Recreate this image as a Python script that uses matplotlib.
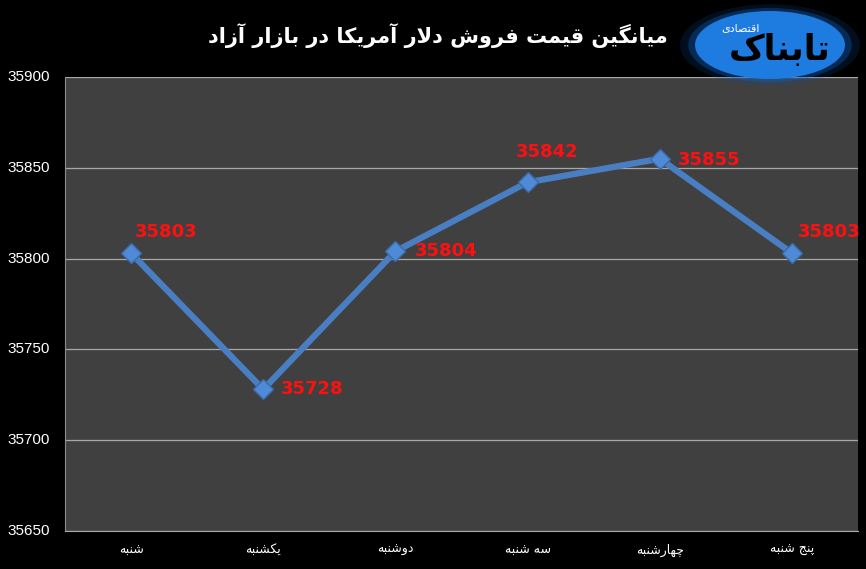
import matplotlib
matplotlib.use("Agg")
import matplotlib.pyplot as plt
from matplotlib.patches import Ellipse
import numpy as np

# ---------------- data ----------------
title_fa = "میانگین قیمت فروش دلار آمریکا در بازار آزاد"
categories = ["شنبه", "یکشنبه", "دوشنبه", "سه شنبه", "چهارشنبه", "پنج شنبه"]
values = [35803, 35728, 35804, 35842, 35855, 35803]
yticks = [35650, 35700, 35750, 35800, 35850, 35900]
logo_main = "تابناک"
logo_sub = "اقتصادی"

# ---------------- simple Persian shaping ----------------
FORMS = {
    '\u0627': (0xFE8D, 0xFE8E, None, None),
    '\u0622': (0xFE81, 0xFE82, None, None),
    '\u0628': (0xFE8F, 0xFE90, 0xFE91, 0xFE92),
    '\u067E': (0xFB56, 0xFB57, 0xFB58, 0xFB59),
    '\u062A': (0xFE95, 0xFE96, 0xFE97, 0xFE98),
    '\u062B': (0xFE99, 0xFE9A, 0xFE9B, 0xFE9C),
    '\u062C': (0xFE9D, 0xFE9E, 0xFE9F, 0xFEA0),
    '\u0686': (0xFB7A, 0xFB7B, 0xFB7C, 0xFB7D),
    '\u062D': (0xFEA1, 0xFEA2, 0xFEA3, 0xFEA4),
    '\u062E': (0xFEA5, 0xFEA6, 0xFEA7, 0xFEA8),
    '\u062F': (0xFEA9, 0xFEAA, None, None),
    '\u0630': (0xFEAB, 0xFEAC, None, None),
    '\u0631': (0xFEAD, 0xFEAE, None, None),
    '\u0632': (0xFEAF, 0xFEB0, None, None),
    '\u0698': (0xFB8A, 0xFB8B, None, None),
    '\u0633': (0xFEB1, 0xFEB2, 0xFEB3, 0xFEB4),
    '\u0634': (0xFEB5, 0xFEB6, 0xFEB7, 0xFEB8),
    '\u0635': (0xFEB9, 0xFEBA, 0xFEBB, 0xFEBC),
    '\u0636': (0xFEBD, 0xFEBE, 0xFEBF, 0xFEC0),
    '\u0637': (0xFEC1, 0xFEC2, 0xFEC3, 0xFEC4),
    '\u0638': (0xFEC5, 0xFEC6, 0xFEC7, 0xFEC8),
    '\u0639': (0xFEC9, 0xFECA, 0xFECB, 0xFECC),
    '\u063A': (0xFECD, 0xFECE, 0xFECF, 0xFED0),
    '\u0641': (0xFED1, 0xFED2, 0xFED3, 0xFED4),
    '\u0642': (0xFED5, 0xFED6, 0xFED7, 0xFED8),
    '\u06A9': (0xFB8E, 0xFB8F, 0xFB90, 0xFB91),
    '\u06AF': (0xFB92, 0xFB93, 0xFB94, 0xFB95),
    '\u0644': (0xFEDD, 0xFEDE, 0xFEDF, 0xFEE0),
    '\u0645': (0xFEE1, 0xFEE2, 0xFEE3, 0xFEE4),
    '\u0646': (0xFEE5, 0xFEE6, 0xFEE7, 0xFEE8),
    '\u0648': (0xFEED, 0xFEEE, None, None),
    '\u0647': (0xFEE9, 0xFEEA, 0xFEEB, 0xFEEC),
    '\u06CC': (0xFBFC, 0xFBFD, 0xFBFE, 0xFBFF),
    '\u064A': (0xFEF1, 0xFEF2, 0xFEF3, 0xFEF4),
}
LAM_ALEF = {'\u0627': (0xFEFB, 0xFEFC), '\u0622': (0xFEF5, 0xFEF6)}


def joins_forward(ch):
    return ch in FORMS and FORMS[ch][2] is not None


def shape(text):
    chars = []
    i = 0
    while i < len(text):
        c = text[i]
        if c == '\u0644' and i + 1 < len(text) and text[i + 1] in LAM_ALEF:
            chars.append(('LA', text[i + 1]))
            i += 2
        else:
            chars.append((c, None))
            i += 1
    out = []
    for k, (c, extra) in enumerate(chars):
        prev = chars[k - 1][0] if k > 0 else None
        prev_joins = prev is not None and prev != 'LA' and joins_forward(prev)
        if c == 'LA':
            iso, fin = LAM_ALEF[extra]
            out.append(chr(fin if prev_joins else iso))
            continue
        if c not in FORMS:
            out.append(c)
            continue
        nxt = chars[k + 1][0] if k + 1 < len(chars) else None
        next_ok = nxt is not None and (nxt in FORMS or nxt == 'LA')
        iso, fin, ini, med = FORMS[c]
        can_fwd = ini is not None and next_ok
        if prev_joins and can_fwd:
            out.append(chr(med))
        elif prev_joins:
            out.append(chr(fin))
        elif can_fwd:
            out.append(chr(ini))
        else:
            out.append(chr(iso))
    return ''.join(reversed(out))


# ---------------- figure ----------------
W, H = 866, 569
fig = plt.figure(figsize=(W / 100, H / 100), dpi=100, facecolor='black')
ax = fig.add_axes([65 / W, (H - 531) / H, (858 - 65) / W, (531 - 77) / H])
ax.set_facecolor('#404040')

x = np.arange(len(categories))
ax.plot(x, values, color='#4A7EC2', lw=4.5, zorder=3, solid_capstyle='round')
ax.plot(x, values, ls='none', marker='D', ms=10, mfc='#4F8AD6', mec='#3A6AA8',
        mew=1, zorder=4)

ax.set_xlim(-0.5, len(categories) - 0.5)
ax.set_ylim(yticks[0], yticks[-1])
ax.set_yticks(yticks)
ax.yaxis.grid(True, color='#A8A8A8', lw=0.9)
ax.set_axisbelow(True)
for s in ['top', 'right']:
    ax.spines[s].set_visible(False)
ax.spines['left'].set_color('#8C8C8C')
ax.spines['bottom'].set_color('#A8A8A8')
ax.tick_params(axis='both', length=0, colors='white')
ax.set_yticklabels([str(v) for v in yticks], family=['Liberation Sans', 'DejaVu Sans'],
                   fontsize=11, color='white', va='center')
ax.tick_params(axis='y', pad=11)
ax.set_xticks(x)
ax.set_xticklabels([shape(c) for c in categories], family=['DejaVu Sans'], fontsize=9,
                   color='white')
ax.tick_params(axis='x', pad=9)

# data labels (offsets in points)
offsets = [(3, 15, 'left'), (13, 0, 'left'), (14, 0, 'left'),
           (14, 22, 'center'), (13, -1, 'left'), (4, 15, 'left')]
for xi, v, (dx, dy, ha) in zip(x, values, offsets):
    ax.annotate(str(v), (xi, v), xytext=(dx, dy), textcoords='offset points',
                ha=ha, va='center', color='#FF1010', fontsize=13, fontweight='bold',
                family=['DejaVu Sans'], zorder=5)

# title
fig.text(438 / W, 1 - 36 / H, shape(title_fa), ha='center', va='center', color='white',
         fontsize=15, fontweight='bold', family=['DejaVu Sans'])

# logo approximation
cx, cy = 770, 45
for r, a, col in [(1.2, 0.18, '#0A4FA8'), (1.09, 0.35, '#1060C0'), (1.0, 1.0, '#1E7BE0')]:
    e = Ellipse((cx / W, 1 - cy / H), 150 / W * r, 68 / H * r,
                transform=fig.transFigure, facecolor=col, edgecolor='none', alpha=a)
    fig.add_artist(e)
fig.text(780 / W, 1 - 50 / H, shape(logo_main), ha='center', va='center', color='black',
         fontsize=25, fontweight='bold', family=['DejaVu Sans'])
fig.text(740 / W, 1 - 28 / H, shape(logo_sub), ha='center', va='center', color='white',
         fontsize=8, family=['DejaVu Sans'])

fig.savefig('out.png', dpi=100, facecolor='black')
